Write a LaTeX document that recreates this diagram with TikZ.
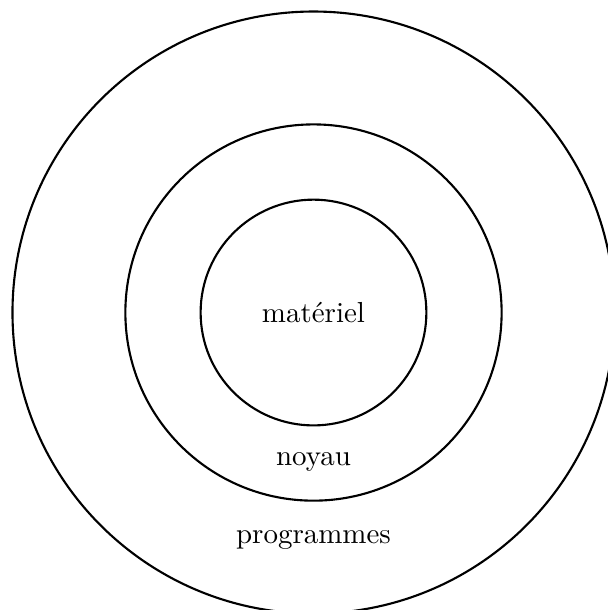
\documentclass[tikz,border=0pt]{standalone}
\begin{document}
\begin{tikzpicture}[ring/.style={draw,thick},lbl/.style={font=\fontsize{10.95pt}{13pt}\selectfont}]
\useasboundingbox (-4.166,-3.953) rectangle (3.904,4.153);
\draw[ring] (0,0) circle (4);
\draw[ring] (0,0) circle (2.5);
\draw[ring] (0,0) circle (1.5);
\node[lbl] (m) at (0,0) {matériel};
\node[lbl] (n) at (0,-1.98) {noyau};
\node[lbl] (p) at (0,-3.02) {programmes};
\end{tikzpicture}
\end{document}
